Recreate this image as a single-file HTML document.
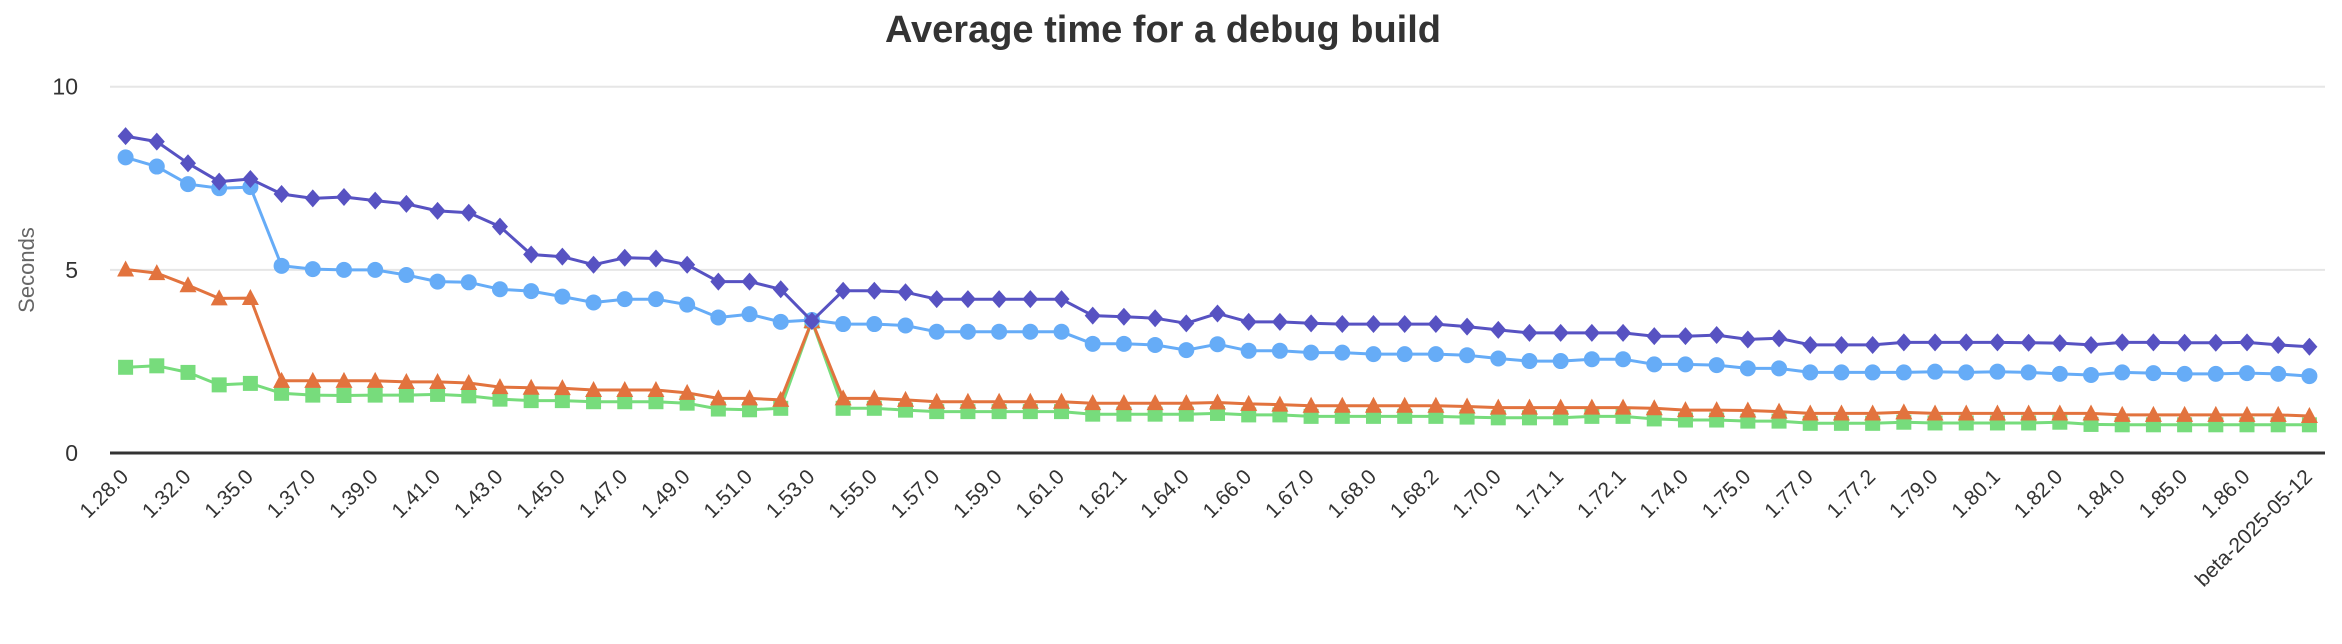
<!DOCTYPE html>
<html><head><meta charset="utf-8"><style>
html,body{margin:0;padding:0;background:#fff;}
svg{display:block;font-family:"Liberation Sans",Arial,sans-serif;}
</style></head><body>
<svg id="chart" width="2342" height="644" viewBox="0 0 2342 644">
<text x="1163" y="42" text-anchor="middle" font-size="38" font-weight="bold" fill="#333">Average time for a debug build</text>
<text transform="translate(34,270) rotate(-90)" text-anchor="middle" font-size="22" fill="#666">Seconds</text>
<g id="grid"></g>
<g id="xlabels"></g>
<g id="series"></g>
</svg>
<script>
const categories = ["1.28.0","1.30.0","1.32.0","1.34.0","1.35.0","1.36.0","1.37.0","1.38.0","1.39.0","1.40.0","1.41.0","1.42.0","1.43.0","1.44.0","1.45.0","1.46.0","1.47.0","1.48.0","1.49.0","1.50.0","1.51.0","1.52.0","1.53.0","1.54.0","1.55.0","1.56.0","1.57.0","1.58.0","1.59.0","1.60.0","1.61.0","1.62.0","1.62.1","1.63.0","1.64.0","1.65.0","1.66.0","1.66.1","1.67.0","1.67.1","1.68.0","1.68.1","1.68.2","1.69.0","1.70.0","1.71.0","1.71.1","1.72.0","1.72.1","1.73.0","1.74.0","1.74.1","1.75.0","1.76.0","1.77.0","1.77.1","1.77.2","1.78.0","1.79.0","1.80.0","1.80.1","1.81.0","1.82.0","1.83.0","1.84.0","1.84.1","1.85.0","1.85.1","1.86.0","1.87.0","beta-2025-05-12"];
const yTicks = [0, 5, 10];
const seriesPurple = [8.65,8.50,7.91,7.41,7.48,7.07,6.95,6.99,6.89,6.80,6.61,6.56,6.18,5.42,5.36,5.14,5.33,5.31,5.14,4.68,4.68,4.47,3.60,
 4.43,4.43,4.39,4.20,4.20,4.20,4.20,4.20,3.75,3.72,3.68,3.54,3.81,3.58,3.58,3.54,3.52,3.52,3.52,3.52,3.45,3.36,3.28,3.28,
 3.28,3.28,3.19,3.19,3.22,3.10,3.13,2.95,2.95,2.95,3.02,3.02,3.02,3.02,3.01,3.00,2.95,3.02,3.02,3.01,3.01,3.02,2.95,2.90];
const seriesBlue = [8.07,7.82,7.34,7.23,7.26,5.11,5.02,5.00,5.00,4.86,4.68,4.66,4.47,4.42,4.27,4.11,4.20,4.20,4.05,3.70,3.79,3.58,3.63,
 3.52,3.52,3.48,3.31,3.31,3.31,3.31,3.31,2.98,2.98,2.95,2.81,2.97,2.79,2.79,2.74,2.74,2.70,2.70,2.70,2.67,2.58,2.51,2.51,
 2.56,2.56,2.42,2.42,2.40,2.31,2.31,2.20,2.20,2.20,2.20,2.22,2.20,2.22,2.20,2.16,2.13,2.20,2.18,2.16,2.16,2.18,2.16,2.10];
const seriesOrange = [5.01,4.91,4.58,4.22,4.23,1.97,1.97,1.97,1.97,1.94,1.94,1.91,1.80,1.78,1.77,1.72,1.72,1.72,1.64,1.49,1.49,1.45,3.60,
 1.49,1.49,1.45,1.40,1.40,1.40,1.40,1.40,1.36,1.36,1.36,1.36,1.38,1.34,1.32,1.29,1.29,1.29,1.29,1.29,1.27,1.24,1.24,1.24,
 1.24,1.24,1.22,1.17,1.17,1.16,1.13,1.08,1.08,1.08,1.11,1.08,1.08,1.08,1.08,1.08,1.08,1.04,1.04,1.04,1.04,1.04,1.04,1.01];
const seriesGreen = [2.34,2.38,2.20,1.86,1.90,1.63,1.58,1.57,1.58,1.58,1.60,1.56,1.47,1.43,1.43,1.40,1.40,1.40,1.36,1.20,1.18,1.22,3.60,
 1.22,1.22,1.17,1.13,1.13,1.13,1.13,1.13,1.06,1.06,1.06,1.06,1.08,1.04,1.04,1.00,1.00,1.00,1.00,1.00,0.98,0.96,0.96,0.96,
 1.00,1.00,0.93,0.90,0.90,0.87,0.87,0.81,0.81,0.81,0.84,0.82,0.82,0.82,0.82,0.84,0.78,0.77,0.77,0.77,0.77,0.77,0.77,0.77];

const NS = "http://www.w3.org/2000/svg";
const PL = 110, PR = 2325, PT = 86.7, PB = 453, YMAX = 10;
const step = (PR - PL) / categories.length;
function xPos(i){ return PL + (i + 0.5) * step; }
function yPos(v){ return PB - v / YMAX * (PB - PT); }
function mk(tag, attrs, parent){ const e = document.createElementNS(NS, tag); for (const k in attrs) e.setAttribute(k, attrs[k]); parent.appendChild(e); return e; }

const grid = document.getElementById('grid');
yTicks.forEach(t => {
  if (t > 0) {
    const gl = mk('line', {x1: PL, x2: PR, y1: yPos(t), y2: yPos(t), stroke: '#e6e6e6', 'stroke-width': 2}, grid);
    
    
  }
  const tl = mk('text', {x: 78, y: yPos(t) + 8, 'text-anchor': 'end', 'font-size': 23, fill: '#333'}, grid);
  tl.textContent = String(t);
  
  
});
const axis = mk('line', {x1: PL, x2: PR, y1: PB, y2: PB, stroke: '#333', 'stroke-width': 3}, grid);



const xl = document.getElementById('xlabels');
categories.forEach((c, i) => {
  if (i % 2 !== 0) return;
  const x = xPos(i) + 4, y = 478;
  const t = mk('text', {x: x, y: y, 'text-anchor': 'end', 'font-size': 21, fill: '#333', transform: 'rotate(-45 ' + x + ' ' + y + ')'}, xl);
  t.textContent = c;
  
  
});

const sg = document.getElementById('series');
function drawSeries(vals, color, shape, name){
  const g = mk('g', {}, sg);
  
  
  const pts = vals.map((v, i) => xPos(i).toFixed(1) + ',' + yPos(v).toFixed(1)).join(' ');
  const pl = mk('polyline', {points: pts, fill: 'none', stroke: color, 'stroke-width': 3, 'stroke-linejoin': 'round'}, g);
  
  
  vals.forEach((v, i) => {
    const x = xPos(i), y = yPos(v);
    let m;
    if (shape === 'circle') m = mk('circle', {cx: x, cy: y, r: 8, fill: color}, g);
    else if (shape === 'diamond') m = mk('path', {d: `M${x} ${y-9}L${x+8} ${y}L${x} ${y+9}L${x-8} ${y}Z`, fill: color}, g);
    else if (shape === 'square') m = mk('rect', {x: x-7.5, y: y-7.5, width: 15, height: 15, fill: color}, g);
    else m = mk('path', {d: `M${x} ${y-9}L${x+8.5} ${y+7}L${x-8.5} ${y+7}Z`, fill: color}, g);
    
    
  });
}
drawSeries(seriesGreen, '#77dc7c', 'square', 'series-green');
drawSeries(seriesOrange, '#e2733e', 'triangle', 'series-orange');
drawSeries(seriesBlue, '#66acf7', 'circle', 'series-blue');
drawSeries(seriesPurple, '#5752c2', 'diamond', 'series-purple');
</script>
</body></html>
